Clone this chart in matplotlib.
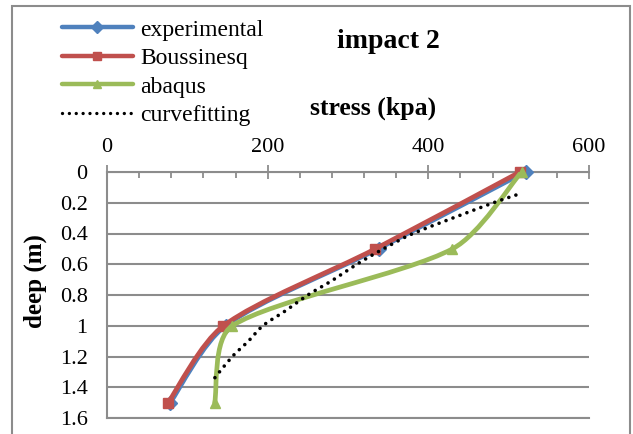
import matplotlib.pyplot as plt
from matplotlib.path import Path
from matplotlib.patches import PathPatch, Rectangle
from matplotlib.lines import Line2D
from matplotlib.ticker import MultipleLocator
import numpy as np

# data
depth = [0, 0.5, 1.0, 1.5]
experimental = [521, 338, 148, 79]
boussinesq = [514, 334, 145, 76]
abaqus = [516, 430, 156, 134]

fit_depth = [0.15, 0.2, 0.4, 0.5, 0.6, 0.7, 0.8, 0.9, 1.0, 1.1, 1.2, 1.34]
fit_stress = [509, 481, 381, 344, 311, 282, 250, 223, 194, 176, 156, 134]

x_ticks = [0, 200, 400, 600]
y_ticks = [0, 0.2, 0.4, 0.6, 0.8, 1.0, 1.2, 1.4, 1.6]
y_labels = ['0', '0.2', '0.4', '0.6', '0.8', '1', '1.2', '1.4', '1.6']

BLUE = '#4F81BD'
RED = '#C0504D'
GREEN = '#9BBB59'
GRID = '#8c8c8c'
DOTS = (0, (0.01, 2.05))

plt.rcParams['font.family'] = ['Liberation Serif', 'DejaVu Serif']


def smooth_path(ax, xs, ys, cap=0.3):
    # Excel-like smoothed line: catmull-rom bezier in screen space,
    # control legs limited to a share of the segment length
    pix = ax.transData.transform(np.column_stack([xs, ys]).astype(float))
    n = len(pix)
    verts = [pix[0]]
    codes = [Path.MOVETO]
    for i in range(n - 1):
        p0 = pix[max(i - 1, 0)]
        p1 = pix[i]
        p2 = pix[i + 1]
        p3 = pix[min(i + 2, n - 1)]
        seg = np.hypot(*(p2 - p1))
        legs = []
        for t in [(p2 - p0) / 6.0, (p3 - p1) / 6.0]:
            ln = np.hypot(*t)
            if ln > cap * seg:
                t = t * cap * seg / ln
            legs.append(t)
        verts += [p1 + legs[0], p2 - legs[1], p2]
        codes += [Path.CURVE4] * 3
    verts = ax.transData.inverted().transform(np.array(verts))
    return Path(verts, codes)


fig = plt.figure(figsize=(6.33, 4.34), dpi=100)
ax = fig.add_axes([107 / 633, 1 - 418 / 434, 482 / 633, 246 / 434])
ax.set_xlim(0, 600)
ax.set_ylim(1.6, 0)

series = [
    (experimental, BLUE, 'D', 'experimental', 3.0),
    (boussinesq, RED, 's', 'Boussinesq', 3.4),
    (abaqus, GREEN, '^', 'abaqus', 3.4),
]
handles = []
for vals, col, mk, lab, lw in series:
    ax.add_patch(PathPatch(smooth_path(ax, vals, depth), facecolor='none',
                           edgecolor=col, lw=lw, capstyle='round', zorder=3))
    ax.plot(vals, depth, ls='none', marker=mk, ms=7, color=col, zorder=3,
            clip_on=False)
    handles.append(Line2D([], [], color=col, lw=3.2, marker=mk, ms=6, label=lab,
                          solid_capstyle='round'))

ax.add_patch(PathPatch(smooth_path(ax, fit_stress, fit_depth), facecolor='none',
                       edgecolor='black', lw=2.6, ls=DOTS,
                       capstyle='round', zorder=4))
handles.append(Line2D([], [], color='black', lw=2.4, ls=DOTS,
                      dash_capstyle='round', label='curvefitting'))

ax.xaxis.tick_top()
ax.set_xticks(x_ticks)
ax.xaxis.set_minor_locator(MultipleLocator(40))
ax.set_yticks(y_ticks)
ax.set_yticklabels(y_labels)
ax.tick_params(axis='x', which='major', direction='inout', length=10,
               width=1.3, color=GRID, labelsize=16, pad=6)
ax.tick_params(axis='x', which='minor', direction='in', length=4,
               width=1.3, color=GRID)
ax.tick_params(axis='y', length=0, labelsize=16, pad=14)

ax.yaxis.grid(True, color=GRID, lw=1.5)
ax.set_axisbelow(True)
ax.spines['right'].set_visible(False)
for side in ['top', 'left', 'bottom']:
    ax.spines[side].set_color(GRID)
    ax.spines[side].set_linewidth(1.5)

ax.set_ylabel('deep (m)', fontsize=18, fontweight='bold')
ax.yaxis.set_label_coords(-0.124, 0.557)

fig.text(388 / 633, 1 - 48 / 434, 'impact 2', fontsize=20, fontweight='bold',
         ha='center', va='baseline')
fig.text(373 / 633, 1 - 115 / 434, 'stress (kpa)', fontsize=18.5,
         fontweight='bold', ha='center', va='baseline')

fig.legend(handles=handles, loc='upper left', bbox_to_anchor=(62 / 633, 1 - 19 / 434),
           frameon=False, fontsize=17, handlelength=3.0, handletextpad=0.3,
           labelspacing=0.3, borderpad=0, borderaxespad=0)

# outer chart border
fig.patches.append(Rectangle((12 / 633, -0.1), 618 / 633, 1.1 - 6 / 434,
                             transform=fig.transFigure, fill=False,
                             edgecolor='#8c8c8c', lw=1.5))

fig.savefig('out.png', dpi=100, facecolor='white')
